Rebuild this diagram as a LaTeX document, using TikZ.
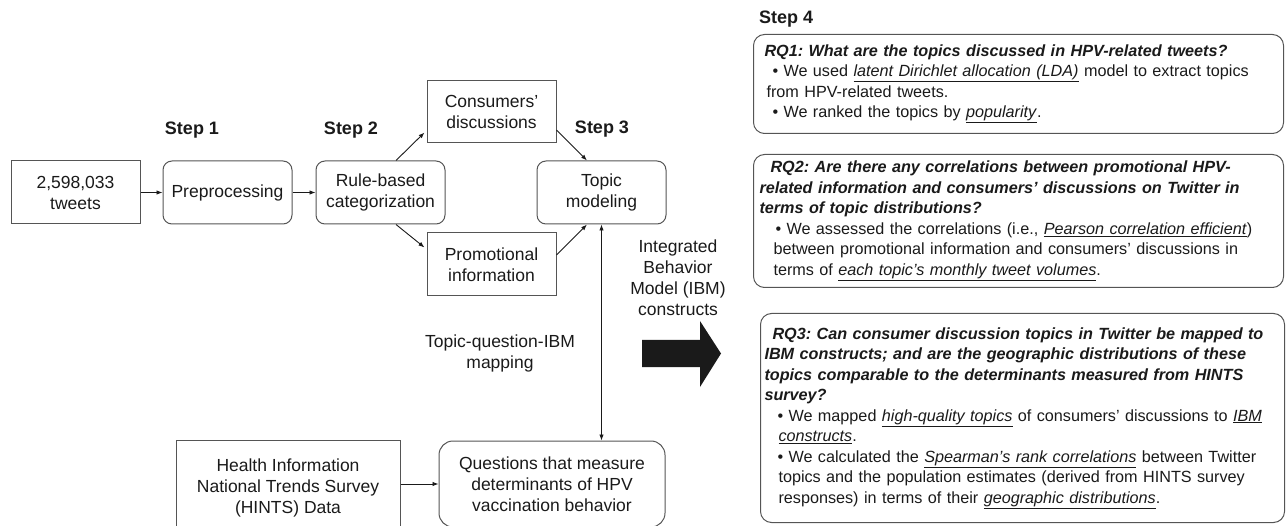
\documentclass[tikz,border=0pt]{standalone}
\usepackage{fontspec}
\setmainfont{Liberation Sans}
\usetikzlibrary{arrows.meta,calc}
\definecolor{bord}{HTML}{555555}
\definecolor{ink}{HTML}{1A1A1A}
\newcommand{\ulit}[1]{\underline{\textit{#1}}}
\newcommand{\bq}[1]{{\bfseries\itshape #1}}
\frenchspacing
\begin{document}
\begin{tikzpicture}[x=1pt,y=-1pt,
  every node/.style={text=ink, inner sep=0pt},
  lbl/.style={font=\fontsize{17.5}{21}\selectfont, align=center},
  sqbox/.style={lbl, draw=bord, line width=1pt, minimum width=129, minimum height=63},
  rbox/.style={sqbox, rounded corners=9pt},
  steplbl/.style={font=\fontsize{18}{22}\selectfont\bfseries},
  conn/.style={draw=ink, line width=0.9pt, -{Latex[length=6pt,width=4.5pt]}},
  rqbox/.style={draw=bord, line width=1pt, rounded corners=11pt, anchor=north west, align=left, inner ysep=0pt, font=\fontsize{16.2}{20.5}\selectfont},
]
\useasboundingbox (0,0) rectangle (1287,526);
\clip (0,0) rectangle (1287,526);

% left flow
\node[sqbox] (tweets) at (75.5,192.5) {2,598,033\\tweets};
\node[rbox] (prep) at (227.5,192.5) {Preprocessing};
\node[rbox] (rule) at (380.5,192.5) {Rule-based\\categorization};
\node[sqbox, minimum height=62] (cons) at (491.5,112) {Consumers'\\discussions};
\node[sqbox] (promo) at (491.5,264.5) {Promotional\\information};
\node[rbox] (topic) at (601.5,192.5) {Topic\\modeling};

\node[steplbl] (s1) at (192,130) {Step 1};
\node[steplbl] (s2) at (351,130) {Step 2};
\node[steplbl] (s3) at (602,129) {Step 3};
\node[steplbl, anchor=west] (s4) at (759,19) {Step 4};

\node[sqbox, minimum width=224, minimum height=96] (hints) at (288,488) {Health Information\\National Trends Survey\\(HINTS) Data};
\node[rbox, rounded corners=14pt, minimum width=226, minimum height=86] (quest) at (552,484) {Questions that measure\\determinants of HPV\\vaccination behavior};

\node[lbl] (ibm) at (678,278) {Integrated\\Behavior\\Model (IBM)\\constructs};
\node[lbl] (map) at (500,353) {Topic-question-IBM\\mapping};

% big arrow
\fill[ink] (642,340) -- (700,340) -- (700,321) -- (721,353.5) -- (700,387) -- (700,367) -- (642,367) -- cycle;

% connectors
\draw[conn] (tweets.east) -- (prep.west);
\draw[conn] (prep.east) -- (rule.west);
\draw[conn] ($(rule.north)+(15.5,0)$) -- ($(cons.south west)+(-2,-11)$);
\draw[conn] ($(rule.south)+(15.5,0)$) -- ($(promo.north west)+(-2,15)$);
\draw[conn] ($(cons.east)+(0,18)$) -- ($(topic.north)+(-14.5,0)$);
\draw[conn] ($(promo.east)+(0,-9.5)$) -- ($(topic.south)+(-14.5,0)$);
\draw[conn, {Latex[length=6pt,width=4.5pt]}-{Latex[length=6pt,width=4.5pt]}] (topic.south) -- (topic.south |- quest.north);
\draw[conn] (hints.east |- quest.west) -- (quest.west);

% right column
\node[rqbox, minimum width=530, minimum height=99, inner xsep=11pt, text width=508pt] (rq1) at (753,34) {%
\bq{RQ1: What are the topics discussed in HPV-related tweets?}\\
\hspace*{8pt}• We used \ulit{latent Dirichlet allocation (LDA)} model to extract topics\\
\hspace*{2pt}from HPV-related tweets.\\
\hspace*{8pt}• We ranked the topics by \ulit{popularity}.};

\node[rqbox, minimum width=530, minimum height=133, inner xsep=6pt, text width=518pt] (rq2) at (753,154) {%
\hspace*{11pt}\bq{RQ2: Are there any correlations between promotional HPV-}\\
\bq{related information and consumers' discussions on Twitter in}\\
\bq{terms of topic distributions?}\\
\hspace*{16pt}• We assessed the correlations (i.e., \ulit{Pearson correlation efficient})\\
\hspace*{14pt}between promotional information and consumers' discussions in\\
\hspace*{14pt}terms of \ulit{each topic's monthly tweet volumes}.};

\node[rqbox, minimum width=524, minimum height=209, inner xsep=4pt, text width=516pt] (rq3) at (760,313) {%
\hspace*{8pt}\bq{RQ3: Can consumer discussion topics in Twitter be mapped to}\\
\bq{IBM constructs; and are the geographic distributions of these}\\
\bq{topics comparable to the determinants measured from HINTS}\\
\bq{survey?}\\
\hspace*{13pt}• We mapped \ulit{high-quality topics} of consumers' discussions to \ulit{IBM}\\
\hspace*{14pt}\ulit{constructs}.\\
\hspace*{13pt}• We calculated the \ulit{Spearman's rank correlations} between Twitter\\
\hspace*{14pt}topics and the population estimates (derived from HINTS survey\\
\hspace*{14pt}responses) in terms of their \ulit{geographic distributions}.};
\end{tikzpicture}
\end{document}
